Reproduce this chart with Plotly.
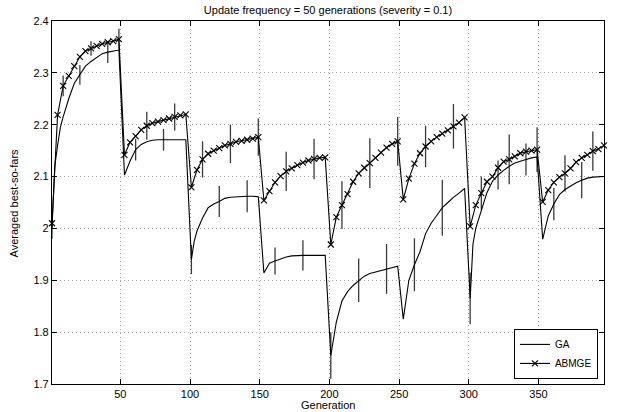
import plotly.graph_objects as go

# ---------------- data ----------------
abmge_gen = list(range(1, 398, 4))
abmge_val = [
    2.010, 2.219, 2.275, 2.294, 2.313, 2.331, 2.342, 2.347, 2.352, 2.356, 2.359, 2.361, 2.365,
    2.142, 2.166, 2.178, 2.190, 2.198, 2.203, 2.206, 2.209, 2.212, 2.215, 2.218, 2.220,
    2.079, 2.113, 2.133, 2.144, 2.150, 2.155, 2.160, 2.163, 2.167, 2.169, 2.171, 2.173, 2.176,
    2.054, 2.072, 2.089, 2.101, 2.110, 2.116, 2.122, 2.127, 2.131, 2.134, 2.136, 2.137,
    1.969, 2.022, 2.045, 2.066, 2.090, 2.106, 2.117, 2.126, 2.136, 2.146, 2.156, 2.163, 2.168,
    2.056, 2.096, 2.125, 2.145, 2.158, 2.168, 2.176, 2.183, 2.189, 2.197, 2.204, 2.214,
    2.004, 2.045, 2.068, 2.090, 2.100, 2.117, 2.129, 2.133, 2.139, 2.145, 2.148, 2.150, 2.152,
    2.051, 2.074, 2.089, 2.099, 2.106, 2.116, 2.128, 2.136, 2.142, 2.149, 2.153, 2.160,
]

ga_gen = [
    1, 3, 5, 7, 9, 13, 17, 21, 25, 29, 33, 37, 41, 45, 49,
    53, 57, 61, 65, 69, 73, 77, 81, 85, 89, 93, 97,
    101, 103, 105, 109, 113, 117, 121, 125, 129, 133, 137, 141, 145, 149,
    153, 157, 161, 165, 169, 173, 177, 181, 185, 189, 193, 197,
    201, 203, 205, 209, 213, 217, 221, 225, 229, 233, 237, 241, 245, 249,
    253, 257, 261, 265, 269, 273, 277, 281, 285, 289, 293, 297,
    301, 303, 305, 309, 313, 317, 321, 325, 329, 333, 337, 341, 345, 349,
    353, 357, 361, 365, 369, 373, 377, 381, 385, 389, 393, 397,
]
ga_val = [
    2.000, 2.120, 2.160, 2.195, 2.215, 2.250, 2.280, 2.296, 2.313, 2.322, 2.330, 2.337, 2.340, 2.342, 2.344,
    2.103, 2.130, 2.152, 2.162, 2.167, 2.170, 2.171, 2.171, 2.171, 2.171, 2.171, 2.171,
    1.940, 1.975, 1.995, 2.020, 2.040, 2.047, 2.052, 2.058, 2.060, 2.061, 2.062, 2.062, 2.062, 2.061,
    1.914, 1.933, 1.937, 1.941, 1.945, 1.947, 1.948, 1.948, 1.948, 1.948, 1.948, 1.948,
    1.755, 1.785, 1.820, 1.860, 1.878, 1.890, 1.900, 1.908, 1.913, 1.916, 1.919, 1.922, 1.925, 1.927,
    1.825, 1.900, 1.930, 1.955, 1.990, 2.010, 2.025, 2.040, 2.050, 2.060, 2.068, 2.077,
    1.865, 1.970, 2.000, 2.037, 2.069, 2.091, 2.103, 2.112, 2.120, 2.126, 2.130, 2.133, 2.136, 2.138,
    1.979, 2.024, 2.047, 2.065, 2.075, 2.082, 2.088, 2.093, 2.097, 2.099, 2.100, 2.100,
]

# error bars (half lengths)
abmge_err_gen = [9, 29, 49, 69, 89, 109, 129, 149, 169, 189, 209, 229, 249, 269, 289, 309, 329, 349, 369, 389]
abmge_err = [0.020, 0.014, 0.020, 0.027, 0.026, 0.035, 0.037, 0.036, 0.038, 0.039,
             0.046, 0.048, 0.047, 0.040, 0.043, 0.032, 0.048, 0.043, 0.035, 0.038]
ga_err_gen = [1, 21, 41, 61, 81, 101, 121, 141, 161, 181, 201, 221, 241, 261, 281, 301, 321, 341, 361, 381]
ga_err = [0.020, 0.019, 0.021, 0.021, 0.021, 0.028, 0.030, 0.031, 0.026, 0.029,
          0.045, 0.042, 0.048, 0.051, 0.054, 0.050, 0.028, 0.031, 0.031, 0.035]

x_ticks = [50, 100, 150, 200, 250, 300, 350]
y_ticks = [1.7, 1.8, 1.9, 2.0, 2.1, 2.2, 2.3, 2.4]
y_ticktext = ["1.7", "1.8", "1.9", "2", "2.1", "2.2", "2.3", "2.4"]

title = "Update frequency = 50 generations (severity = 0.1)"
x_title = "Generation"
y_title = "Averaged best-so-fars"

# ---------------- figure ----------------
FONT = "Liberation Sans, Arial, Helvetica, sans-serif"
ga_lookup = dict(zip(ga_gen, ga_val))
ab_lookup = dict(zip(abmge_gen, abmge_val))

fig = go.Figure()

fig.add_trace(go.Scatter(
    x=ga_err_gen, y=[ga_lookup[g] for g in ga_err_gen], mode="markers",
    marker=dict(size=1, color="rgba(0,0,0,0)"),
    error_y=dict(type="data", array=ga_err, width=0, thickness=1.3, color="#3a3a3a"),
    showlegend=False, hoverinfo="skip", cliponaxis=False))
fig.add_trace(go.Scatter(
    x=abmge_err_gen, y=[ab_lookup[g] for g in abmge_err_gen], mode="markers",
    marker=dict(size=1, color="rgba(0,0,0,0)"),
    error_y=dict(type="data", array=abmge_err, width=0, thickness=1.3, color="#3a3a3a"),
    showlegend=False, hoverinfo="skip", cliponaxis=False))

fig.add_trace(go.Scatter(
    x=ga_gen, y=ga_val, mode="lines", name="GA",
    line=dict(color="black", width=1.1)))
fig.add_trace(go.Scatter(
    x=abmge_gen, y=abmge_val, mode="lines+markers", name="ABMGE",
    line=dict(color="black", width=1.1),
    marker=dict(symbol="x-thin", size=6, line=dict(color="black", width=1.1)),
    cliponaxis=False))

axis_common = dict(
    showline=True, linecolor="black", linewidth=1.2, mirror="ticks",
    ticks="inside", ticklen=5, tickcolor="black", tickwidth=1,
    showgrid=True, gridcolor="#a8a8a8", griddash="1px,3px", gridwidth=1,
    zeroline=False, automargin=False,
    tickfont=dict(family=FONT, size=11, color="black"),
)

fig.update_xaxes(range=[1, 397], tickvals=x_ticks, **axis_common)
fig.update_yaxes(range=[1.7, 2.4], tickvals=y_ticks, ticktext=y_ticktext, **axis_common)

fig.update_layout(
    width=621, height=412,
    margin=dict(l=52, r=17, t=21, b=28),
    paper_bgcolor="white", plot_bgcolor="white",
    title=dict(text=title, x=0.5, xref="paper", y=0.985, yanchor="top",
               font=dict(family=FONT, size=11, color="black")),
    legend=dict(x=0.989, y=0.014, xanchor="right", yanchor="bottom",
                bgcolor="white", bordercolor="black", borderwidth=1,
                font=dict(family=FONT, size=10, color="black"),
                tracegroupgap=0, itemwidth=30),
    showlegend=True,
    annotations=[
        dict(text=x_title, xref="paper", yref="paper", x=0.5, y=-0.058,
             xanchor="center", yanchor="middle", showarrow=False,
             font=dict(family=FONT, size=11, color="black")),
        dict(text=y_title, xref="paper", yref="paper", x=-0.069, y=0.5,
             xanchor="center", yanchor="middle", textangle=-90, showarrow=False,
             font=dict(family=FONT, size=11, color="black")),
    ],
)

fig.write_html("out.html")
